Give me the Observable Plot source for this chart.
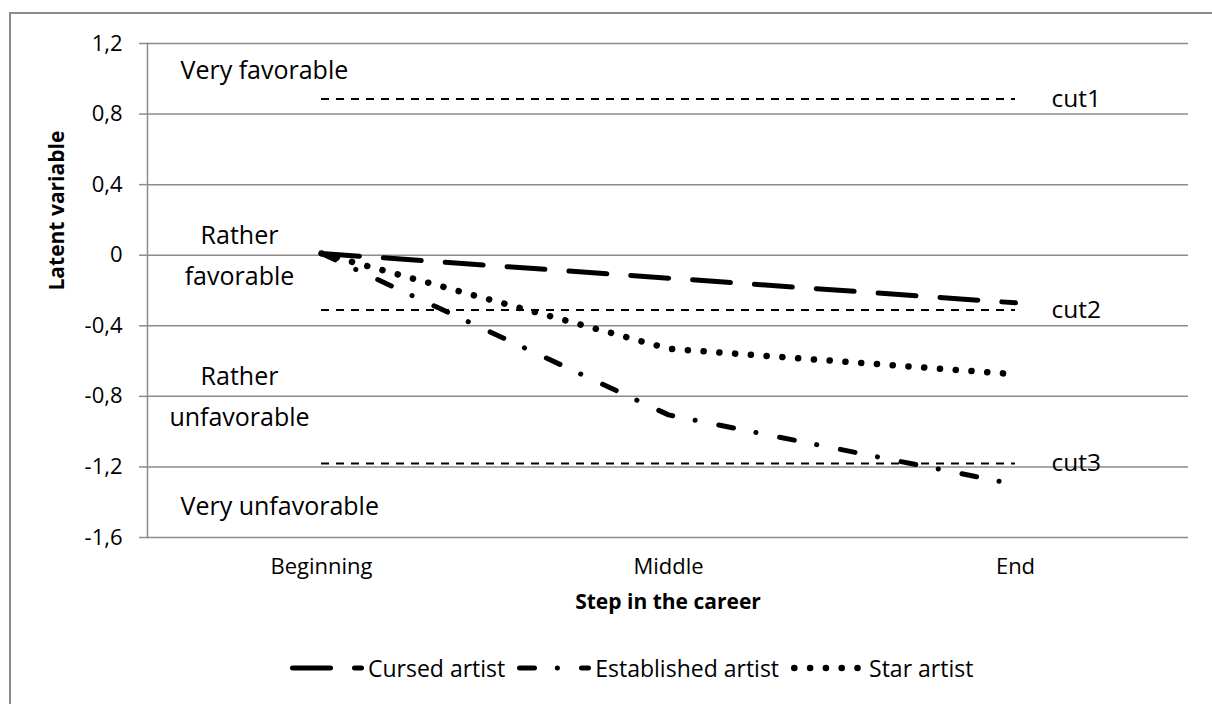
<!DOCTYPE html>
<html><head><meta charset="utf-8">
<script src="https://cdn.jsdelivr.net/npm/d3@7"></script>
<script src="https://cdn.jsdelivr.net/npm/@observablehq/plot@0.6"></script>
<style>
body{margin:0;background:#fff;font-family:'Open Sans',sans-serif;}
#wrap{position:relative;width:1212px;height:704px;overflow:hidden;background:#fff;}
#border{position:absolute;left:9px;top:12px;right:-5px;bottom:-5px;border-left:2px solid #8c8c8c;border-top:2px solid #8c8c8c;pointer-events:none;}
#legend{position:absolute;left:290px;top:650px;height:36px;display:flex;align-items:center;font-size:23px;color:#000;white-space:nowrap;}
#legend .item{display:flex;align-items:center;margin-right:12px}
#legend .item span{margin-left:4px}
</style></head><body>
<div id="wrap"><div id="chart"></div><div id="legend"></div><div id="border"></div></div>
<script>
// ---- data ----
const steps = ["Beginning", "Middle", "End"];
const seriesNames = ["Cursed artist", "Established artist", "Star artist"];
const cursedValues = [0.01, -0.13, -0.27];
const establishedValues = [0.01, -0.905, -1.30];
const starValues = [0.01, -0.53, -0.675];
const cutNames = ["cut1", "cut2", "cut3"];
const cutValues = [0.885, -0.31, -1.18];
const regionNames = ["Very favorable", "Rather\nfavorable", "Rather\nunfavorable", "Very unfavorable"];
const regionValues = [1.045, 0.02, -0.78, -1.425];
const yTicks = [1.2, 0.8, 0.4, 0, -0.4, -0.8, -1.2, -1.6];

// ---- styles ----
const seriesValues = [cursedValues, establishedValues, starValues];
const seriesStyles = [
  {strokeWidth: 5, strokeDasharray: "38,24"},
  {strokeWidth: 5, strokeDasharray: "15,22.8,0.1,24.1"},
  {strokeWidth: 6.5, strokeDasharray: "0.1,15.7"}
];
const gray = "#8c8c8c";
const fmt = d => d === 0 ? "0" : d.toFixed(1).replace(".", ",");

const lineData = seriesNames.flatMap((s, i) => steps.map((st, j) => ({series: s, step: st, value: seriesValues[i][j]})));
const cuts = cutNames.map((n, i) => ({name: n, value: cutValues[i]}));
const regions = regionNames.map((n, i) => ({name: n, value: regionValues[i]}));

const plot = Plot.plot({
  width: 1212, height: 645,
  marginLeft: 147, marginRight: 24, marginTop: 43, marginBottom: 108,
  style: {fontFamily: "'Open Sans', sans-serif", background: "transparent", color: "#000"},
  x: {type: "point", domain: steps, padding: 0.5},
  y: {domain: [-1.6, 1.2]},
  marks: [
    Plot.gridY(yTicks, {stroke: gray, strokeOpacity: 1, strokeWidth: 1.5}),
    Plot.frame({anchor: "left", stroke: gray, strokeWidth: 1.5}),
    Plot.axisY({ticks: yTicks, tickFormat: fmt, tickSize: 8, tickPadding: 17, stroke: gray, strokeWidth: 1.5, fill: "#000", fontSize: 22, label: null}),
    Plot.axisX({tickSize: 0, tickPadding: 21, fontSize: 22, label: null, fill: "#000"}),
    Plot.ruleY(cuts, {y: "value", x1: () => steps[0], x2: () => steps[steps.length - 1], stroke: "#000", strokeWidth: 2, strokeDasharray: "8,7"}),
    ...seriesNames.map((s, i) => Plot.line(lineData.filter(d => d.series === s), {
      x: "step", y: "value", stroke: "#000", strokeLinecap: "round", strokeLinejoin: "round", ...seriesStyles[i]
    })),
    Plot.text(cuts, {x: () => steps[steps.length - 1], y: "value", text: "name", dx: 36, textAnchor: "start", fontSize: 24.5, fill: "#000"}),
    Plot.text(regions.filter(d => d.name.startsWith("Very")), {y: "value", text: "name", frameAnchor: "left", dx: 33, textAnchor: "start", fontSize: 25, fill: "#000"}),
    Plot.text(regions.filter(d => d.name.startsWith("Rather")), {y: "value", text: "name", frameAnchor: "left", dx: 92, textAnchor: "middle", fontSize: 25, lineHeight: 1.64, fill: "#000"}),
    Plot.text(["Step in the career"], {frameAnchor: "bottom", dy: 71, fontWeight: "bold", fontSize: 21, fill: "#000"}),
    Plot.text(["Latent variable"], {frameAnchor: "left", dx: -90, rotate: -90, fontWeight: "bold", fontSize: 21, fill: "#000"})
  ]
});
document.getElementById("chart").appendChild(plot);

// ---- legend ----
const legend = d3.select("#legend");
seriesNames.forEach((s, i) => {
  const item = legend.append("div").attr("class", "item");
  const svg = item.append("svg").attr("width", 74).attr("height", 20);
  svg.append("line")
    .attr("x1", seriesStyles[i].strokeWidth / 2).attr("x2", 71.5).attr("y1", 10).attr("y2", 10)
    .attr("stroke", "#000").attr("stroke-width", seriesStyles[i].strokeWidth)
    .attr("stroke-dasharray", seriesStyles[i].strokeDasharray).attr("stroke-linecap", "round");
  item.append("span").text(s);
});
</script>
</body></html>
